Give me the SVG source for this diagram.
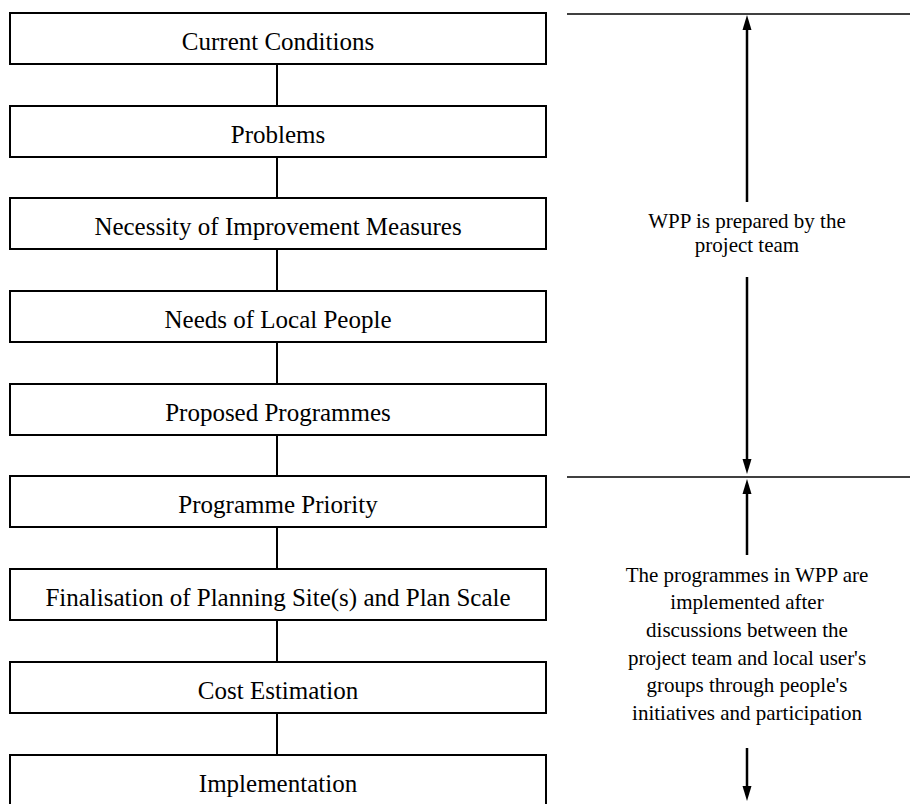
<svg xmlns="http://www.w3.org/2000/svg" width="910" height="804" viewBox="0 0 910 804">
<style>
.box{fill:#fff;stroke:#000;stroke-width:2}
.lbl{font-family:"Liberation Serif","Times New Roman",serif;font-size:25px;fill:#000;text-anchor:middle}
.note{font-family:"Liberation Serif","Times New Roman",serif;font-size:21px;fill:#000;text-anchor:middle}
.conn{stroke:#000;stroke-width:2;fill:none}
.arr{stroke:#000;stroke-width:2.5;fill:none;marker-end:url(#ah)}
.div{stroke:#000;stroke-width:1.5}
</style>
<defs>
<marker id="ah" markerUnits="userSpaceOnUse" viewBox="0 -5 15 10" refX="3" refY="0" markerWidth="15" markerHeight="10" orient="auto">
<path d="M0,-4.5 L15,0 L0,4.5 z" fill="#000"/>
</marker>
</defs>
<rect width="910" height="804" fill="#fff"/>
<g id="connectors">
<line class="conn" x1="277" y1="64" x2="277" y2="106"/>
<line class="conn" x1="277" y1="157" x2="277" y2="198"/>
<line class="conn" x1="277" y1="249" x2="277" y2="291"/>
<line class="conn" x1="277" y1="342" x2="277" y2="384"/>
<line class="conn" x1="277" y1="435" x2="277" y2="476"/>
<line class="conn" x1="277" y1="527" x2="277" y2="569"/>
<line class="conn" x1="277" y1="620" x2="277" y2="662"/>
<line class="conn" x1="277" y1="713" x2="277" y2="755"/>
</g>
<g id="n1"><rect class="box" x="10" y="13" width="536" height="51"/><text class="lbl" x="278" y="50">Current Conditions</text></g>
<g id="n2"><rect class="box" x="10" y="106" width="536" height="51"/><text class="lbl" x="278" y="143">Problems</text></g>
<g id="n3"><rect class="box" x="10" y="198" width="536" height="51"/><text class="lbl" x="278" y="235">Necessity of Improvement Measures</text></g>
<g id="n4"><rect class="box" x="10" y="291" width="536" height="51"/><text class="lbl" x="278" y="328">Needs of Local People</text></g>
<g id="n5"><rect class="box" x="10" y="384" width="536" height="51"/><text class="lbl" x="278" y="421">Proposed Programmes</text></g>
<g id="n6"><rect class="box" x="10" y="476" width="536" height="51"/><text class="lbl" x="278" y="513">Programme Priority</text></g>
<g id="n7"><rect class="box" x="10" y="569" width="536" height="51"/><text class="lbl" x="278" y="606">Finalisation of Planning Site(s) and Plan Scale</text></g>
<g id="n8"><rect class="box" x="10" y="662" width="536" height="51"/><text class="lbl" x="278" y="699">Cost Estimation</text></g>
<g id="n9"><rect class="box" x="10" y="755" width="536" height="60"/><text class="lbl" x="278" y="792">Implementation</text></g>
<g id="phase1">
<line class="div" x1="567" y1="14" x2="910" y2="14"/>
<line class="arr" x1="747" y1="202" x2="747" y2="27"/>
<text class="note" x="747" y="228">WPP is prepared by the</text>
<text class="note" x="747" y="252">project team</text>
<line class="arr" x1="747" y1="277" x2="747" y2="462"/>
</g>
<g id="phase2">
<line class="div" x1="567" y1="477" x2="910" y2="477"/>
<line class="arr" x1="747" y1="555" x2="747" y2="491"/>
<text class="note" x="747" y="582">The programmes in WPP are</text>
<text class="note" x="747" y="609">implemented after</text>
<text class="note" x="747" y="637">discussions between the</text>
<text class="note" x="747" y="665">project team and local user's</text>
<text class="note" x="747" y="692">groups through people's</text>
<text class="note" x="747" y="720">initiatives and participation</text>
<line class="arr" x1="747" y1="748" x2="747" y2="789"/>
</g>
</svg>
